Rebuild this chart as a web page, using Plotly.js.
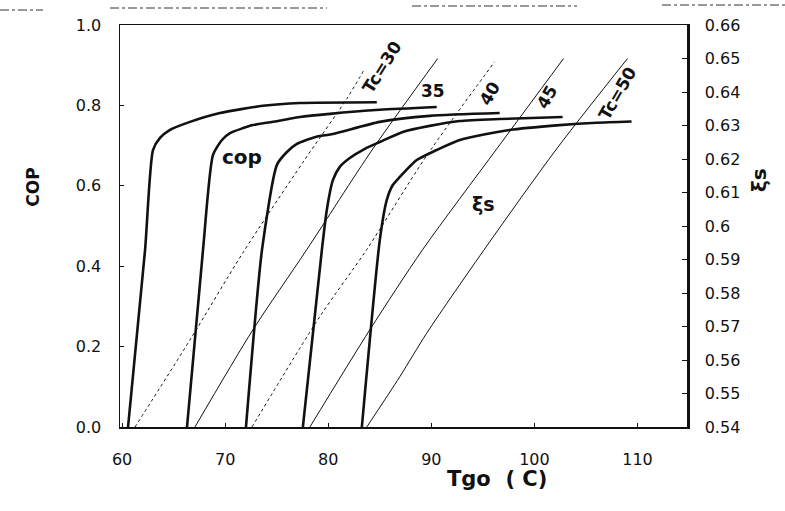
<!DOCTYPE html>
<html>
<head>
<meta charset="utf-8">
<script src="https://cdn.plot.ly/plotly-3.0.1.min.js"></script>
<style>html,body{margin:0;padding:0;background:#fff}#chart{width:785px;height:511px}</style>
</head>
<body>
<div id="chart"></div>
<script>
// COP curves (left axis) — Tgo (C) vs COP, one per condenser temperature Tc
const copTc30X = [60.58, 62.23, 63.00, 63.68, 64.65, 66.59, 69.50, 73.66, 77.25, 84.71];
const copTc30Y = [0.000, 0.440, 0.689, 0.719, 0.739, 0.759, 0.781, 0.799, 0.806, 0.808];
const copTc35X = [66.30, 67.85, 68.82, 69.69, 70.47, 72.69, 75.12, 77.25, 80.16, 85.00, 90.52];
const copTc35Y = [0.000, 0.440, 0.677, 0.714, 0.731, 0.751, 0.761, 0.771, 0.779, 0.789, 0.796];
const copTc40X = [72.02, 73.57, 75.02, 75.99, 76.96, 78.70, 80.45, 85.00, 89.84, 96.63];
const copTc40Y = [0.000, 0.440, 0.652, 0.684, 0.704, 0.721, 0.729, 0.759, 0.774, 0.781];
const copTc45X = [77.54, 79.38, 79.86, 80.45, 81.12, 82.09, 83.55, 85.00, 87.23, 89.84, 92.75, 96.63, 102.73];
const copTc45Y = [0.000, 0.440, 0.540, 0.614, 0.647, 0.669, 0.692, 0.709, 0.734, 0.749, 0.761, 0.766, 0.771];
const copTc50X = [83.26, 85.00, 85.68, 86.26, 86.94, 88.59, 90.52, 92.75, 97.60, 102.44, 106.03, 109.42];
const copTc50Y = [0.000, 0.465, 0.565, 0.602, 0.622, 0.664, 0.689, 0.714, 0.739, 0.751, 0.757, 0.760];

// ξs lines (right axis)
const xiTc30X = [61.26, 66.59, 71.72, 77.54, 81.80, 83.55];
const xiTc30Y = [0.540, 0.566, 0.592, 0.619, 0.638, 0.647];
const xiTc35X = [67.07, 72.69, 77.93, 84.32, 90.62];
const xiTc35Y = [0.540, 0.569, 0.593, 0.623, 0.650];
const xiTc40X = [72.60, 79.19, 83.74, 89.55, 96.14];
const xiTc40Y = [0.540, 0.573, 0.593, 0.621, 0.649];
const xiTc45X = [78.22, 84.03, 89.17, 96.34, 102.83];
const xiTc45Y = [0.540, 0.569, 0.593, 0.623, 0.650];
const xiTc50X = [83.74, 86.94, 89.55, 95.37, 102.15, 109.03];
const xiTc50Y = [0.540, 0.555, 0.568, 0.594, 0.623, 0.650];

// tick labels
const xTicks = [60, 70, 80, 90, 100, 110];
const yTicks = [0, 0.2, 0.4, 0.6, 0.8, 1.0];
const yTickText = ["0.0", "0.2", "0.4", "0.6", "0.8", "1.0"];
const y2Ticks = [0.54, 0.55, 0.56, 0.57, 0.58, 0.59, 0.60, 0.61, 0.62, 0.63, 0.64, 0.65, 0.66];
const y2TickText = ["0.54", "0.55", "0.56", "0.57", "0.58", "0.59", "0.6", "0.61", "0.62", "0.63", "0.64", "0.65", "0.66"];

// curve labels
const tcLabels = ["Tc=30", "35", "40", "45", "Tc=50"];
const tcLabelX = [85.2, 90.2, 95.7, 101.2, 108.1];
const tcLabelY = [0.896, 0.836, 0.830, 0.821, 0.830];
const tcLabelAngle = [-58, 0, -60, -60, -60];

const ink = "#111";
const traces = [];
const copSets = [[copTc30X, copTc30Y], [copTc35X, copTc35Y], [copTc40X, copTc40Y], [copTc45X, copTc45Y], [copTc50X, copTc50Y]];
copSets.forEach(s => traces.push({
  x: s[0], y: s[1], type: "scatter", mode: "lines", xaxis: "x", yaxis: "y",
  line: {color: ink, width: 2.6, shape: "spline", smoothing: 0.6}, hoverinfo: "skip"
}));
const xiSets = [[xiTc30X, xiTc30Y, "dot"], [xiTc35X, xiTc35Y, "solid"], [xiTc40X, xiTc40Y, "dot"], [xiTc45X, xiTc45Y, "solid"], [xiTc50X, xiTc50Y, "solid"]];
xiSets.forEach(s => traces.push({
  x: s[0], y: s[1], type: "scatter", mode: "lines", xaxis: "x", yaxis: "y2",
  line: {color: ink, width: 1, dash: s[2], shape: "spline", smoothing: 0.8}, hoverinfo: "skip"
}));

const tickFont = {family: "DejaVu Sans, Liberation Sans, Arial", size: 16, color: "#111"};
const annotations = tcLabels.map((t, i) => ({
  x: tcLabelX[i], y: tcLabelY[i], xref: "x", yref: "y", text: t, showarrow: false,
  textangle: tcLabelAngle[i], font: {family: "DejaVu Sans, Arial", size: 17, color: ink, weight: "bold"}
}));
annotations.push({x: 71.63, y: 0.672, xref: "x", yref: "y", text: "<b>cop</b>", showarrow: false,
  font: {family: "DejaVu Sans, Arial", size: 20, color: ink}});
annotations.push({x: 95.1, y: 0.555, xref: "x", yref: "y", text: "<b>ξs</b>", showarrow: false,
  font: {family: "DejaVu Sans, Arial", size: 19, color: ink}});
annotations.push({x: 0.665, y: -0.164, xref: "paper", yref: "paper", text: "<b>Tgo  ( C)</b>", showarrow: false,
  font: {family: "DejaVu Sans, Arial", size: 21, color: ink}});
annotations.push({x: -0.175, y: 0.597, xref: "paper", yref: "paper", text: "<b>COP</b>", showarrow: false, textangle: -90,
  font: {family: "DejaVu Sans, Arial", size: 17, color: ink}});
annotations.push({x: 1.152, y: 0.615, xref: "paper", yref: "paper", text: "<b>ξs</b>", showarrow: false, textangle: -90,
  font: {family: "DejaVu Sans, Arial", size: 20, color: ink}});

const artifact = (x0, x1, y) => ({type: "line", xref: "paper", yref: "paper",
  x0: (x0 - 120) / 567, x1: (x1 - 120) / 567, y0: (427 - y) / 402, y1: (427 - y) / 402,
  line: {color: "#333", width: 1, dash: "dashdot"}});

const layout = {
  width: 785, height: 511,
  margin: {l: 120, r: 98, t: 25, b: 84},
  paper_bgcolor: "#fff", plot_bgcolor: "#fff",
  showlegend: false,
  xaxis: {range: [59.8, 114.8], tickvals: xTicks, ticks: "inside", ticklen: 4, tickcolor: ink,
    showgrid: false, zeroline: false, showline: true, linecolor: ink, linewidth: 1.5, mirror: true,
    tickfont: tickFont, ticklabelstandoff: 17},
  yaxis: {range: [0, 1], tickvals: yTicks, ticktext: yTickText, ticks: "inside", ticklen: 4, tickcolor: ink,
    showgrid: false, zeroline: false, showline: true, linecolor: ink, linewidth: 1.5,
    tickfont: tickFont, ticklabelstandoff: 14},
  yaxis2: {range: [0.54, 0.66], overlaying: "y", side: "right", tickvals: y2Ticks, ticktext: y2TickText,
    ticks: "inside", ticklen: 5, tickcolor: ink, showgrid: false, zeroline: false, showline: true,
    linecolor: ink, linewidth: 2.5, tickfont: tickFont, ticklabelstandoff: 12},
  annotations: annotations,
  shapes: [artifact(0, 43, 10), artifact(110, 327, 8), artifact(412, 577, 6), artifact(662, 785, 5)]
};

Plotly.newPlot("chart", traces, layout, {staticPlot: true, displayModeBar: false});
</script>
</body>
</html>
